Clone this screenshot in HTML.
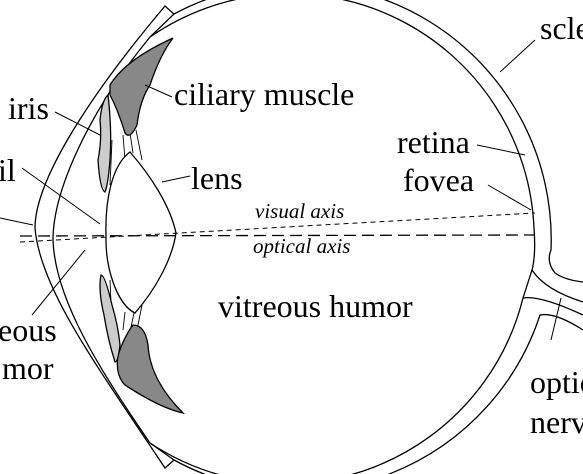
<!DOCTYPE html>
<html><head><meta charset="utf-8"><style>
html,body{margin:0;padding:0;background:#fff}
svg{display:block}
text{font-family:"Liberation Serif",serif;font-size:32px;fill:#000}
.it{font-style:italic;font-size:21px}
</style></head><body>
<svg width="583" height="474" viewBox="0 0 583 474" fill="none" stroke="#000" stroke-width="1.3">
<g>
<path d="M174,14 A256,256 0 0 1 551,250 Q546,262 555,273 Q565,280 583,282" />
<path d="M583,330 Q555,312 540,315 A256,256 0 0 1 174,460" />
<path d="M150,37 A245,245 0 0 1 534,228 Q536,255 532,270 L523,298 A245,245 0 0 1 150,443" />
<path d="M532,270 Q545,290 583,302" />
<path d="M523,298 Q540,295 583,315" />
</g>
<g>
<path d="M150,37 L174,14 L165,6 C90,95 35,180 35,228 C40,290 100,370 165,468 L174,460 L150,443" />
<path d="M150,37 C90,110 53,190 53,240 C55,300 100,370 150,443" />
</g>
<g stroke-width="0.9">
<path d="M123,135 L125,160 M130,133 L133,153 M136,130 L142,160 M112,140 L110,185" />
<path d="M123,330 L125,312 M130,332 L134,313 M136,335 L142,305 M112,325 L110,280" />
</g>
<path fill="#888" d="M110,85 Q125,60 173,38 Q160,55 150,85 Q140,100 137,125 Q130,140 125,133 Q118,110 110,95 Z" />
<path fill="#888" d="M118,355 Q125,335 133,325 Q145,325 148,345 Q150,380 183,413 Q160,408 125,385 Q115,375 118,355 Z" />
<path fill="#ccc" d="M108,95 Q112,130 110,160 Q108,185 105,192 Q100,190 98,160 Q102,140 100,120 Q102,100 108,95 Z" />
<path fill="#ccc" d="M101,275 Q105,275 112,305 Q118,325 120,345 Q118,362 115,362 Q108,340 104,315 Q98,290 101,275 Z" />
<path fill="#fff" d="M130,152 C150,175 170,205 176,233 C172,260 155,290 135,313 C118,305 105,270 106,235 C105,200 112,165 130,152 Z" />
<line x1="20" y1="236" x2="535" y2="235" stroke-dasharray="12,6" />
<line x1="20" y1="242" x2="535" y2="213" stroke-dasharray="5,4" stroke-width="1" />
<g stroke-width="1">
<line x1="55" y1="112" x2="100" y2="135"/>
<line x1="145" y1="85" x2="172" y2="97"/>
<line x1="22" y1="168" x2="100" y2="224"/>
<line x1="0" y1="218" x2="33" y2="225"/>
<line x1="162" y1="182" x2="190" y2="176"/>
<line x1="32" y1="315" x2="85" y2="250"/>
<line x1="477" y1="145" x2="525" y2="155"/>
<line x1="488" y1="185" x2="531" y2="210"/>
<line x1="500" y1="72" x2="535" y2="40"/>
<line x1="551" y1="340" x2="561" y2="298"/>
</g>
<g stroke="none">
<text x="8" y="119">iris</text>
<text x="174" y="105">ciliary muscle</text>
<text x="-2" y="181">il</text>
<text x="191" y="189">lens</text>
<text x="397" y="153">retina</text>
<text x="403" y="191">fovea</text>
<text class="it" x="255" y="218">visual axis</text>
<text class="it" x="253" y="253">optical axis</text>
<text x="218" y="317">vitreous humor</text>
<text x="-2" y="341">eous</text>
<text x="2" y="379">mor</text>
<text x="540" y="39">scle</text>
<text x="530" y="393">optic</text>
<text x="530" y="433">nerv</text>
</g>
</svg>
</body></html>
